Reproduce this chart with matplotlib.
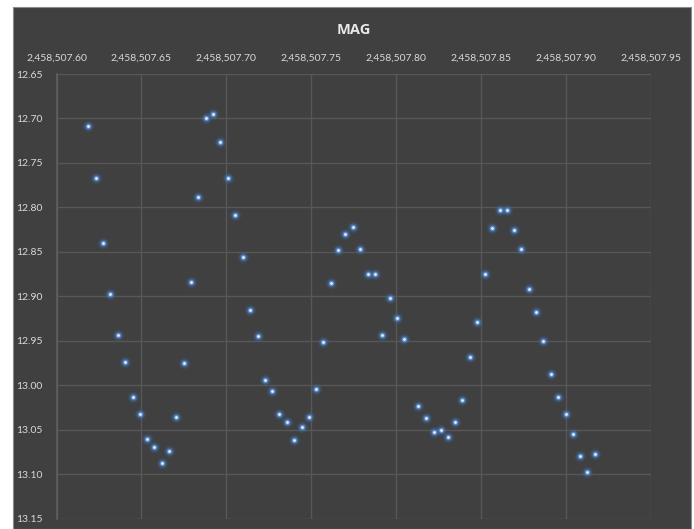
import matplotlib
matplotlib.use("Agg")
import matplotlib.pyplot as plt
import matplotlib.patches as mpatches
from matplotlib.ticker import FuncFormatter, MultipleLocator

# Julian date of each observation and its magnitude
jd = [2458507.6188, 2458507.6231, 2458507.6272, 2458507.6316, 2458507.6363,
      2458507.6406, 2458507.6449, 2458507.6492, 2458507.6533, 2458507.6576,
      2458507.6620, 2458507.6661, 2458507.6704, 2458507.6751, 2458507.6794,
      2458507.6835, 2458507.6878, 2458507.6922, 2458507.6965, 2458507.7008,
      2458507.7051, 2458507.7098, 2458507.7141, 2458507.7184, 2458507.7225,
      2458507.7269, 2458507.7312, 2458507.7355, 2458507.7396, 2458507.7443,
      2458507.7486, 2458507.7529, 2458507.7571, 2458507.7614, 2458507.7657,
      2458507.7700, 2458507.7743, 2458507.7784, 2458507.7831, 2458507.7875,
      2458507.7918, 2458507.7961, 2458507.8002, 2458507.8045, 2458507.8131,
      2458507.8178, 2458507.8220, 2458507.8263, 2458507.8306, 2458507.8349,
      2458507.8390, 2458507.8434, 2458507.8476, 2458507.8525, 2458507.8566,
      2458507.8610, 2458507.8653, 2458507.8694, 2458507.8737, 2458507.8781,
      2458507.8822, 2458507.8865, 2458507.8912, 2458507.8955, 2458507.8998,
      2458507.9039, 2458507.9082, 2458507.9125, 2458507.9169]
mag = [12.709, 12.767, 12.840, 12.898, 12.944,
       12.974, 13.013, 13.032, 13.061, 13.070,
       13.088, 13.074, 13.036, 12.975, 12.884,
       12.788, 12.700, 12.695, 12.727, 12.767,
       12.809, 12.856, 12.915, 12.945, 12.994,
       13.007, 13.033, 13.042, 13.062, 13.047,
       13.036, 13.004, 12.952, 12.885, 12.848,
       12.830, 12.822, 12.847, 12.875, 12.875,
       12.944, 12.902, 12.925, 12.948, 13.023,
       13.037, 13.053, 13.050, 13.058, 13.041,
       13.017, 12.968, 12.929, 12.875, 12.823,
       12.803, 12.803, 12.825, 12.847, 12.892,
       12.918, 12.950, 12.988, 13.013, 13.033,
       13.055, 13.080, 13.098, 13.078]

bg = '#404040'
grid_col = '#575757'
text_col = '#d9d9d9'

fig = plt.figure(figsize=(6.94, 5.29), dpi=100, facecolor='white')
# dark chart area inside the white border, kept behind the axes
fig.patches.append(mpatches.Rectangle((13 / 694, 0), 678 / 694, 1 - 7 / 529,
                                      transform=fig.transFigure, facecolor=bg,
                                      edgecolor='#8a8a8a', linewidth=0.8, zorder=-10))

ax = fig.add_axes([56.5 / 694, 1 - 518.5 / 529, (651 - 56.5) / 694, (518.5 - 74) / 529])
ax.set_facecolor(bg)
ax.set_zorder(1)

# soft glow, halo and bright centre of each marker
ax.scatter(jd, mag, s=70, color='#3a66a0', alpha=0.22, linewidths=0, zorder=3)
ax.scatter(jd, mag, s=34, color='#4a7dbd', alpha=0.45, linewidths=0, zorder=3)
ax.scatter(jd, mag, s=14, color='#6a9bd8', alpha=0.8, linewidths=0, zorder=4)
ax.scatter(jd, mag, s=4, color='#e4effa', linewidths=0, zorder=5)

ax.set_xlim(2458507.60, 2458507.95)
ax.set_ylim(13.15, 12.65)
ax.xaxis.set_major_locator(MultipleLocator(0.05))
ax.yaxis.set_major_locator(MultipleLocator(0.05))
ax.xaxis.set_major_formatter(FuncFormatter(lambda v, p: f'{v:,.2f}'))
ax.yaxis.set_major_formatter(FuncFormatter(lambda v, p: f'{v:.2f}'))
ax.xaxis.tick_top()

ax.grid(True, color=grid_col, linewidth=1.0)
ax.set_axisbelow(True)
for s in ax.spines.values():
    s.set_visible(False)
ax.spines['left'].set_visible(True)
ax.spines['left'].set_color('#5f5f5f')
ax.spines['left'].set_linewidth(1.2)

ax.tick_params(axis='both', length=0, colors=text_col, labelsize=7.5)
ax.tick_params(axis='x', pad=8)
ax.tick_params(axis='y', pad=10)
for lab in ax.get_xticklabels() + ax.get_yticklabels():
    lab.set_family('Lato')

fig.text(354 / 694, 1 - 30 / 529, 'MAG', ha='center', va='center', color='#e8e8e8',
         fontsize=10.5, fontweight='bold', family='Open Sans')

fig.savefig('out.png', dpi=100, facecolor='white')
